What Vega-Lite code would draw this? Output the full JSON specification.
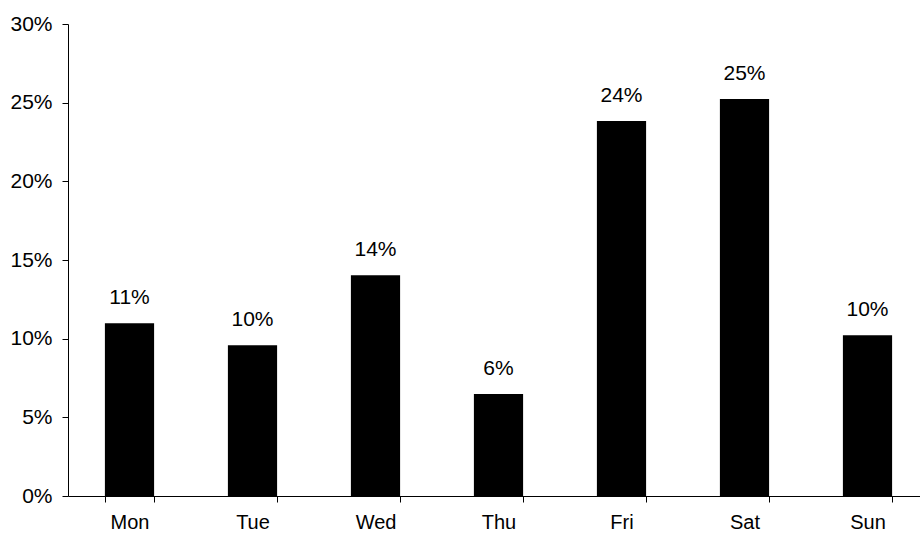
{
  "$schema": "https://vega.github.io/schema/vega-lite/v6.json",
  "width": 861,
  "height": 472,
  "autosize": {"type": "none"},
  "padding": {"left": 68, "top": 24, "right": 0, "bottom": 39},
  "background": "white",
  "config": {
    "view": {"stroke": null},
    "font": "Liberation Sans",
    "axis": {
      "domainColor": "#000000",
      "tickColor": "#000000",
      "labelColor": "#000000",
      "labelFont": "Liberation Sans",
      "labelFontSize": 21,
      "grid": false,
      "title": null
    }
  },
  "data": {
    "values": [
      {"day": "Mon", "share": 0.1098},
      {"day": "Tue", "share": 0.0958},
      {"day": "Wed", "share": 0.1403},
      {"day": "Thu", "share": 0.0648},
      {"day": "Fri", "share": 0.2383},
      {"day": "Sat", "share": 0.2523},
      {"day": "Sun", "share": 0.1021}
    ]
  },
  "encoding": {
    "x": {
      "field": "day",
      "type": "nominal",
      "sort": null,
      "scale": {"paddingInner": 0.6, "paddingOuter": 0.3},
      "axis": {
        "labelAngle": 0,
        "tickBand": "extent",
        "tickSize": 6,
        "labelPadding": 10,
        "labelFontSize": 20,
        "domainWidth": 1,
        "tickWidth": 1
      }
    },
    "y": {
      "field": "share",
      "type": "quantitative",
      "scale": {"domain": [0, 0.3], "nice": false},
      "axis": {
        "values": [0, 0.05, 0.1, 0.15, 0.2, 0.25, 0.3],
        "format": ".0%",
        "tickSize": 6,
        "labelPadding": 10,
        "domainWidth": 1,
        "tickWidth": 1
      }
    }
  },
  "layer": [
    {"mark": {"type": "bar", "color": "#000000"}},
    {
      "mark": {"type": "text", "baseline": "alphabetic", "dy": -19, "fontSize": 21, "color": "#000000"},
      "encoding": {"text": {"field": "share", "type": "quantitative", "format": ".0%"}}
    }
  ]
}
